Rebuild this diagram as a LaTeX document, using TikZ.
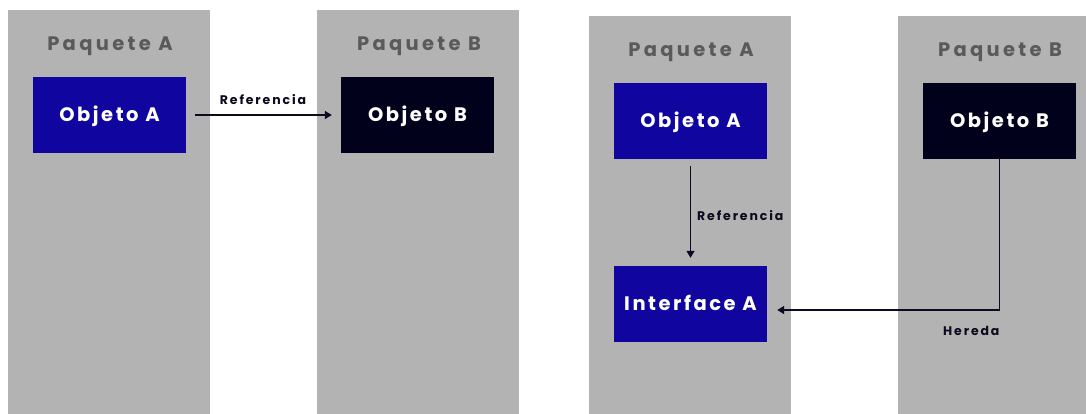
\documentclass[tikz,border=0pt]{standalone}
\usepackage{fontspec}
\setmainfont{Poppins}
\usetikzlibrary{arrows.meta}
\definecolor{panelgray}{HTML}{B3B3B3}
\definecolor{titlegray}{HTML}{5A5A5A}
\definecolor{objblue}{HTML}{10069F}
\definecolor{objdark}{HTML}{02011C}
\definecolor{linedark}{HTML}{0B0A1E}
\tikzset{
  panel/.style={fill=panelgray, draw=none},
  ptitle/.style={text=titlegray, font=\fontsize{19.5}{21}\selectfont\bfseries\addfontfeatures{LetterSpace=17}, inner sep=0pt, anchor=base},
  objbox/.style={minimum width=153pt, minimum height=76pt, inner sep=0pt, text height=13.5pt, text depth=0pt, text=white, font=\fontsize{19.5}{21}\selectfont\bfseries\addfontfeatures{LetterSpace=13}},
  blueobj/.style={objbox, fill=objblue},
  darkobj/.style={objbox, fill=objdark},
  conn/.style={draw=linedark, line width=1.3pt, -{Triangle[length=7pt,width=8pt]}},
  clabel/.style={text=linedark, font=\fontsize{12.5}{14}\selectfont\bfseries\addfontfeatures{LetterSpace=15}, inner sep=0pt}
}
\begin{document}
\begin{tikzpicture}[x=1pt,y=-1pt]
\useasboundingbox (0,0) rectangle (1086,414);
\fill[white] (0,0) rectangle (1086,414);
% panels
\fill[panel] (8,10) rectangle (210,414);
\fill[panel] (317,10) rectangle (519,414);
\fill[panel] (589,16) rectangle (791,414);
\fill[panel] (898,16) rectangle (1086,414);
% titles
\node[ptitle] (t1) at (110,51) {Paquete A};
\node[ptitle] (t2) at (419,51) {Paquete B};
\node[ptitle] (t3) at (691,57) {Paquete A};
\node[ptitle] (t4) at (1000,57) {Paquete B};
% left diagram
\node[blueobj] (oa1) at (109.5,115) {Objeto A};
\node[darkobj] (ob1) at (417.5,115) {Objeto B};
\draw[conn, shorten <=9pt, shorten >=9pt] (oa1) -- (ob1);
\node[clabel, anchor=base] (ref1) at (263,105) {Referencia};
% right diagram
\node[blueobj] (oa2) at (690.5,121) {Objeto A};
\node[darkobj] (ob2) at (999.5,121) {Objeto B};
\node[blueobj] (ia) at (690.5,304) {Interface A};
\draw[conn, shorten <=7pt, shorten >=8pt] (oa2) -- (ia);
\node[clabel, anchor=base west] (ref2) at (697,220.5) {Referencia};
\coordinate (hend) at ([yshift=-6pt]ia.east);
\draw[conn, shorten >=10pt] (ob2.south) |- (hend);
\node[clabel, anchor=base west] (her) at (943,335) {Hereda};
\end{tikzpicture}
\end{document}
